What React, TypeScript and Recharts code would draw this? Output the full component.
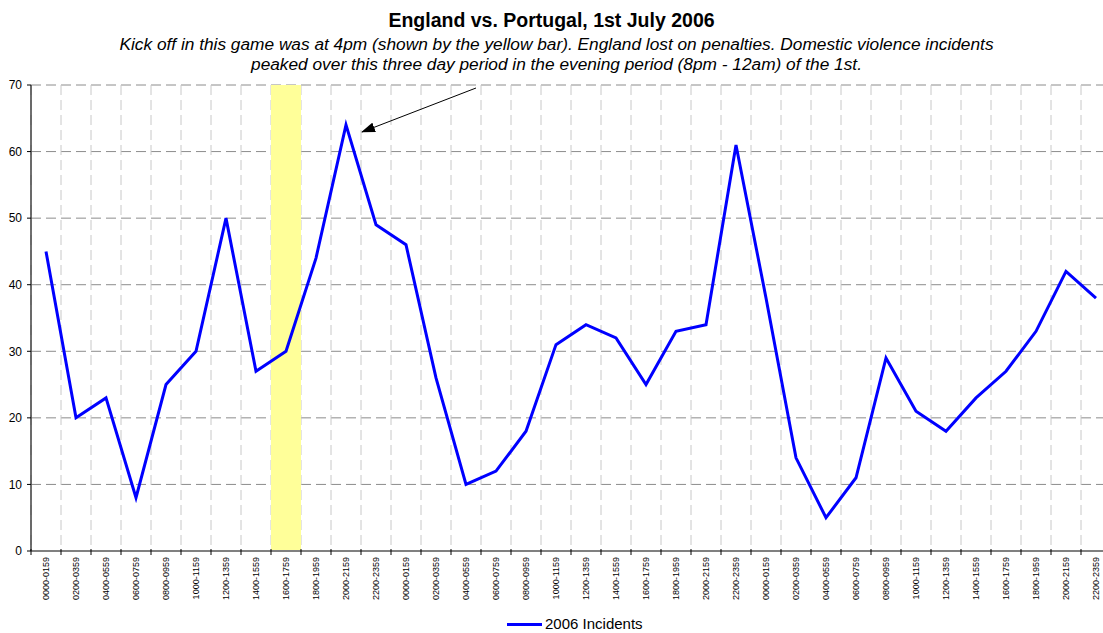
import { LineChart, Line, XAxis, YAxis, CartesianGrid, ReferenceArea } from 'recharts'

// two-hour reporting slots, repeated for each of the three days
const TIME_SLOTS = [
  '0000-0159', '0200-0359', '0400-0559', '0600-0759', '0800-0959', '1000-1159',
  '1200-1359', '1400-1559', '1600-1759', '1800-1959', '2000-2159', '2200-2359',
]

// incidents per slot
const DAY_1 = [45, 20, 23, 8, 25, 30, 50, 27, 30, 44, 64, 49]   // 1st July (match day)
const DAY_2 = [46, 26, 10, 12, 18, 31, 34, 32, 25, 33, 34, 61]
const DAY_3 = [38, 14, 5, 11, 29, 21, 18, 23, 27, 33, 42, 38]

const Y_TICKS = [0, 10, 20, 30, 40, 50, 60, 70]
const KICK_OFF_DAY = 1
const KICK_OFF_SLOT = '1600-1759'
const SERIES_NAME = '2006 Incidents'

const TITLE = 'England vs. Portugal, 1st July 2006'
const SUBTITLE_1 = 'Kick off in this game was at 4pm (shown by the yellow bar). England lost on penalties. Domestic violence incidents'
const SUBTITLE_2 = 'peaked over this three day period in the evening period (8pm - 12am) of the 1st.'

const data = [DAY_1, DAY_2, DAY_3].flatMap((vals, d) =>
  vals.map((v, i) => ({ key: `${d + 1}|${TIME_SLOTS[i]}`, incidents: v })),
)

const FONT = "Arial, 'Liberation Sans', sans-serif"
const CHART_W = 1120
const CHART_H = 633
const MARGIN = { top: 85, right: 9, bottom: 0, left: 0 }
const Y_AXIS_W = 31
const X_AXIS_H = 82
const PLOT_W = CHART_W - MARGIN.left - MARGIN.right - Y_AXIS_W
const STEP = PLOT_W / data.length

const SlotTick = ({ x, y, payload }: any) => (
  <g>
    <line x1={x - STEP / 2} x2={x - STEP / 2} y1={y - 2} y2={y + 4} stroke="#000" />
    <text
      transform={`translate(${x},${y + 6}) rotate(-90)`}
      textAnchor="end"
      dy="0.35em"
      fontSize={9}
      fontFamily={FONT}
      fill="#000"
    >
      {String(payload.value).split('|')[1]}
    </text>
  </g>
)

// vertical grid sits on the category boundaries, Excel style
const boundaryLines = ({ offset }: any) =>
  Array.from({ length: data.length + 1 }, (_, k) => offset.left + (k * offset.width) / data.length)

export default function App() {
  return (
    <div style={{ position: 'absolute', left: 0, top: 0, width: 1103, height: 633, overflow: 'hidden', background: '#fff', fontFamily: FONT }}>
      <div style={{ position: 'absolute', top: 9, left: 0, width: 1103, textAlign: 'center', fontSize: 19.5, fontWeight: 'bold', lineHeight: '22px' }}>
        {TITLE}
      </div>
      <div style={{ position: 'absolute', top: 34, left: 5, width: 1103, textAlign: 'center', fontSize: 17.3, fontStyle: 'italic', lineHeight: '20px', whiteSpace: 'nowrap' }}>
        <div>{SUBTITLE_1}</div>
        <div>{SUBTITLE_2}</div>
      </div>

      <div style={{ position: 'absolute', left: 0, top: 0 }}>
        <LineChart width={CHART_W} height={CHART_H} data={data} margin={MARGIN}>
          <CartesianGrid vertical={false} stroke="#8c8c8c" strokeDasharray="10 5" />
          <CartesianGrid horizontal={false} stroke="#c8c8c8" strokeDasharray="10 5" verticalCoordinatesGenerator={boundaryLines} />
          <ReferenceArea
            x1={`${KICK_OFF_DAY}|${KICK_OFF_SLOT}`}
            x2={`${KICK_OFF_DAY}|${KICK_OFF_SLOT}`}
            fill="#ffff99"
            fillOpacity={1}
            stroke="none"
          />
          <XAxis
            dataKey="key"
            scale="band"
            interval={0}
            height={X_AXIS_H}
            tickSize={0}
            tickMargin={0}
            tick={<SlotTick />}
            axisLine={{ stroke: '#808080', strokeWidth: 2 }}
            tickLine={false}
          />
          <YAxis
            width={Y_AXIS_W}
            domain={[0, 70]}
            ticks={Y_TICKS}
            interval={0}
            tickSize={4}
            tickMargin={5}
            tick={{ fontSize: 12, fill: '#000', fontFamily: FONT }}
            axisLine={{ stroke: '#404040', strokeWidth: 1.5 }}
            tickLine={{ stroke: '#000' }}
          />
          <Line
            type="linear"
            dataKey="incidents"
            name={SERIES_NAME}
            stroke="#0000ff"
            strokeWidth={3}
            dot={false}
            isAnimationActive={false}
          />
        </LineChart>
      </div>

      {/* annotation arrow pointing at the evening peak of the 1st */}
      <svg width={1103} height={633} style={{ position: 'absolute', left: 0, top: 0, pointerEvents: 'none' }}>
        <defs>
          <marker id="head" markerWidth={14} markerHeight={10} refX={13} refY={5} orient="auto" markerUnits="userSpaceOnUse">
            <path d="M0,0 L14,5 L0,10 Z" fill="#000" />
          </marker>
        </defs>
        <line x1={476} y1={88} x2={362} y2={132} stroke="#000" strokeWidth={1} markerEnd="url(#head)" />
      </svg>

      <div style={{ position: 'absolute', left: 507, top: 614, display: 'flex', alignItems: 'center', fontSize: 15, lineHeight: '20px' }}>
        <span style={{ display: 'inline-block', width: 35, height: 3, background: '#0000ff', marginRight: 3 }} />
        {SERIES_NAME}
      </div>
    </div>
  )
}
